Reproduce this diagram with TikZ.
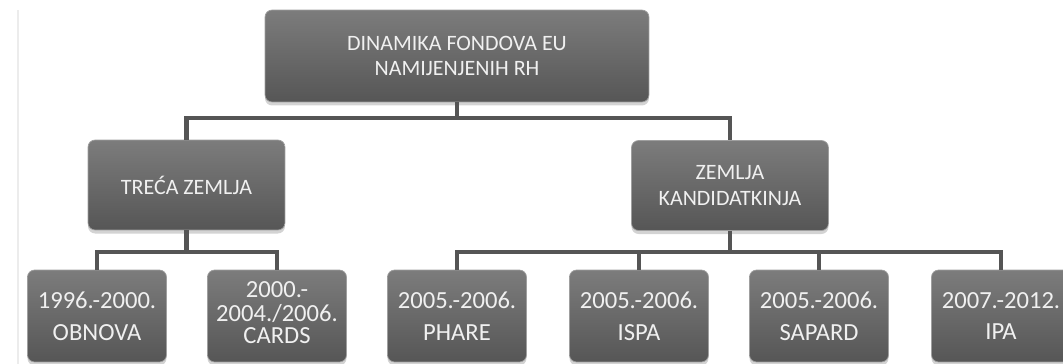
\documentclass[tikz,border=0pt]{standalone}
\usepackage{fontspec}
\setmainfont{Carlito}
\usetikzlibrary{shadows}

\definecolor{boxtop}{HTML}{7C7C7C}
\definecolor{boxbot}{HTML}{565656}
\definecolor{linegray}{HTML}{555555}
\definecolor{txtgray}{HTML}{F0F0F0}

\tikzset{
  box/.style={rounded corners=4pt, top color=boxtop, bottom color=boxbot,
    draw=gray!75, line width=0.4pt, text=txtgray, align=center, inner sep=0pt,
    drop shadow={shadow xshift=0pt, shadow yshift=-2pt, opacity=0.35, fill=gray}},
  bigbox/.style={box, minimum width=7.68cm, minimum height=1.84cm, font=\fontsize{12.5}{14.5}\selectfont},
  midbox/.style={box, minimum width=3.94cm, minimum height=1.8cm, font=\fontsize{12.5}{14.5}\selectfont},
  leafbox/.style={box, minimum width=2.78cm, minimum height=1.84cm, font=\fontsize{14}{18}\selectfont},
  conn/.style={draw=linegray, line width=2.3pt}
}

\begin{document}
\begin{tikzpicture}[x=0.02cm, y=-0.02cm]
        \useasboundingbox (0,0) rectangle (1063,364);                        %
        \draw [gray!15, line width=0.6pt] (18,10) -- (18,364);              % scan edge

        \node [bigbox] (root) at (457,56)   {DINAMIKA FONDOVA EU\\NAMIJENJENIH RH};
        \node [midbox] (treca) at (186.5,185) {TREĆA ZEMLJA};               %
        \node [midbox] (kand) at (730,185.5)  {ZEMLJA\\KANDIDATKINJA};      %

        \node [leafbox] (obnova) at (97,316)  {1996.-2000.\\OBNOVA};        %
        \node [leafbox, font=\fontsize{14}{12.8}\selectfont]
                        (cards)  at (277,316) {\raisebox{4pt}{\begin{tabular}{@{}c@{}}2000.-\\2004./2006.\\CARDS\end{tabular}}}; %
        \node [leafbox] (phare)  at (457,316) {2005.-2006.\\PHARE};         %
        \node [leafbox] (ispa)   at (639,316) {2005.-2006.\\ISPA};          %
        \node [leafbox] (sapard) at (819,316) {2005.-2006.\\SAPARD};        %
        \node [leafbox] (ipa)    at (1001,316){2007.-2012.\\IPA};           %

        \coordinate (busroot) at (0,118);                                   %
        \coordinate (busleaf) at (0,252);                                   %

        \draw [conn] (root.south) -- (root.south |- busroot) -| (treca.north);
        \draw [conn] (root.south |- busroot) -| (kand.north);               %
        \draw [conn] (treca.south) -- (treca.south |- busleaf) -| (obnova.north);
        \draw [conn] (treca.south |- busleaf) -| (cards.north);             %
        \draw [conn] (kand.south) -- (kand.south |- busleaf) -| (phare.north);
        \draw [conn] (kand.south |- busleaf) -| (ipa.north);                %
        \draw [conn] (ispa.north) -- (ispa.north |- busleaf);               %
        \draw [conn] (sapard.north) -- (sapard.north |- busleaf);           %
      \end{tikzpicture}
\end{document}
